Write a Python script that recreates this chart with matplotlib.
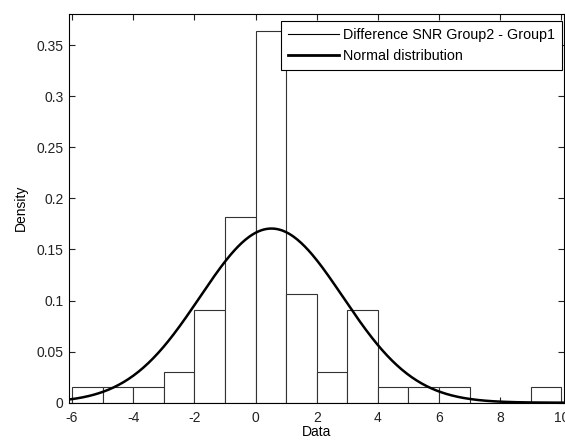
import numpy as np
import matplotlib
matplotlib.use("Agg")
import matplotlib.pyplot as plt
from matplotlib.lines import Line2D
from matplotlib.ticker import FuncFormatter

# Histogram of SNR differences (bin edges of width 1, counts per bin)
bin_edges = [-6, -5, -4, -3, -2, -1, 0, 1, 2, 3, 4, 5, 6, 7, 8, 9, 10]
bin_counts = [1, 1, 1, 2, 6, 12, 24, 7, 2, 6, 1, 1, 1, 0, 0, 1]

# Fitted normal distribution parameters
fit_mean = 0.52
fit_std = 2.34

x_ticks = [-6, -4, -2, 0, 2, 4, 6, 8, 10]
y_ticks = [0, 0.05, 0.1, 0.15, 0.2, 0.25, 0.3, 0.35]

plt.rcParams["font.family"] = ["Liberation Sans", "DejaVu Sans"]
plt.rcParams["font.size"] = 10

fig = plt.figure(figsize=(5.65, 4.42), dpi=100)
ax = fig.add_axes([69 / 565, 1 - 402.7 / 442, (565 - 69) / 565 - 0.001, (402.7 - 13.5) / 442])

edges = np.array(bin_edges, dtype=float)
counts = np.array(bin_counts, dtype=float)
widths = np.diff(edges)
density = counts / (counts.sum() * widths)

ax.bar(edges[:-1], density, width=widths, align="edge",
       facecolor="white", edgecolor="#333333", linewidth=0.8, zorder=2)

xs = np.linspace(-6.1, 10.1, 400)
pdf = np.exp(-0.5 * ((xs - fit_mean) / fit_std) ** 2) / (fit_std * np.sqrt(2 * np.pi))
ax.plot(xs, pdf, color="black", linewidth=1.8, zorder=3)

plain = FuncFormatter(lambda v, p: "%g" % v)
ax.set_xlim(-6.1, 10.1)
ax.set_ylim(0, 0.381)
ax.set_xticks(x_ticks)
ax.set_yticks(y_ticks)
ax.xaxis.set_major_formatter(plain)
ax.yaxis.set_major_formatter(plain)
ax.tick_params(direction="in", length=4, width=0.8, top=True, right=True,
               labelsize=10, colors="#222222")
ax.tick_params(axis="x", pad=6)
ax.tick_params(axis="y", pad=4)
for s in ax.spines.values():
    s.set_linewidth(0.8)

ax.set_xlabel("Data", fontsize=10, labelpad=0)
ax.set_ylabel("Density", fontsize=10, labelpad=6)

handles = [Line2D([], [], color="black", linewidth=0.8),
           Line2D([], [], color="black", linewidth=2)]
labels = ["Difference SNR Group2 - Group1", "Normal distribution"]
leg = fig.legend(handles, labels, loc="upper right",
                 bbox_to_anchor=(562 / 565, 1 - 21 / 442),
                 fancybox=False, edgecolor="black", framealpha=1,
                 borderaxespad=0, handlelength=3.5, handletextpad=0.3,
                 borderpad=0.5, labelspacing=0.5, fontsize=10.3)
leg.get_frame().set_linewidth(0.8)

fig.savefig("out.png", dpi=100)
